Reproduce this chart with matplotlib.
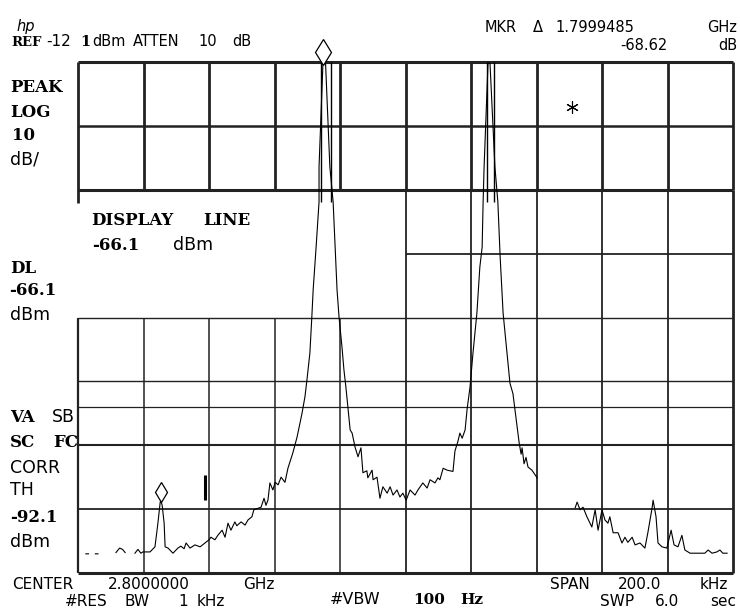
import numpy as np
import matplotlib
matplotlib.use("Agg")
from matplotlib import pyplot as plt

nan = np.nan

# Spectrum analyzer settings (center 2.8 GHz, span 200 kHz, 10 dB/div)
ref_level = -12.1
db_per_div = 10
n_ydiv = 8
freq_lo, freq_hi = -100.0, 100.0   # kHz offset from center
display_line = -66.1

# Trace: frequency offset (kHz) and level (dBm)
trace_f = [-97.6, -96.8, nan, -94.7, -93.9, nan, -88.4, -87.3, -86.4, -85.6, nan,
           -82.6, -81.7, -80.8, -80.2, -78.0, -76.5, -75.6, -74.9, -74.7, -74.3,
           -73.7, -73.4, -72.5, -71.0, -69.5, -68.6, -67.6, -67.0, -65.8, -64.3,
           -62.7, -61.2, -60.0, -59.4, -58.2, -57.3, -56.0, -55.1, -54.2, -53.3,
           -52.1, -51.5, -50.2, -49.0, -48.1, -46.9, -46.3, -44.1, -43.2, -42.6,
           -42.0, -41.4, -40.5, -39.8, -38.9, -38.0, -36.8, -35.9, -34.4, -33.1,
           -31.6, -30.7, -30.1, -29.2, -28.6, -28.2, -27.3, -26.4, -26.4, -25.2,
           -24.4, -23.1, -22.1, -21.5, -20.9, -20.3, -19.4, -18.8, -18.2, -17.6,
           -16.9, -16.3, -15.4, -14.5, -13.6, -13.0, -11.8, -11.5, -10.2, -9.9,
           -8.7, -7.8, -6.9, -5.6, -4.7, -3.8, -2.6, -1.7, -0.8, 0.2,
           1.4, 2.9, 3.8, 5.3, 6.6, 7.5, 9.0, 9.9, 10.5, 11.5,
           12.7, 14.5, 15.1, 16.0, 16.6, 17.3, 18.2, 18.8, 19.7, 20.6,
           21.8, 22.7, 23.4, 23.7, 24.0, 25.2, 25.8, 27.3, 28.2, 28.9,
           29.8, 31.0, 31.9, 32.8, 33.7, 34.7, 35.3, 35.6, 36.2, 36.8,
           37.4, 38.6, 40.2, nan,
           51.8, 52.4, 53.3, 54.2, 55.4, 56.9, 57.9, 58.8, 60.0, 60.9,
           61.8, 62.4, 63.4, 64.9, 66.1, 67.0, 67.9, 69.2, 70.1, 71.6,
           73.1, 74.0, 75.3, 75.6, 76.5, 77.1, 78.3, 79.8, 81.1, 82.0,
           83.2, 84.4, 85.3, 86.9, 89.9, 91.4, 92.4, 93.6, 95.1, 96.0,
           96.9, 98.2]
trace_db = [-89.1, -89.1, nan, -89.1, -89.1, nan, -88.9, -88.2, -88.4, -88.9, nan,
            -89.0, -88.4, -89.0, -88.8, -88.8, -88.0, -84.3, -81.0, -80.8, -81.5,
            -84.3, -88.0, -88.2, -89.0, -88.2, -87.9, -88.3, -87.4, -88.2, -87.7,
            -88.0, -87.4, -86.9, -86.5, -86.9, -86.2, -85.4, -86.5, -84.3, -85.4,
            -84.1, -84.7, -84.1, -84.6, -83.8, -83.3, -82.2, -81.8, -80.4, -81.5,
            -80.7, -78.0, -79.1, -77.9, -78.3, -77.1, -77.9, -75.7, -73.3, -70.8,
            -67.1, -64.5, -61.9, -57.7, -52.0, -47.8, -41.1, -34.0, -28.5, -12.2,
            -12.4, -28.5, -34.0, -41.1, -47.8, -52.0, -56.7, -60.3, -63.0, -66.1,
            -69.7, -70.2, -72.4, -73.9, -72.5, -76.4, -76.1, -77.2, -76.0, -77.5,
            -77.1, -80.4, -78.6, -79.6, -78.6, -79.9, -79.1, -80.2, -79.6, -80.7,
            -79.1, -79.9, -79.1, -78.0, -78.8, -77.5, -78.0, -77.2, -77.5, -75.7,
            -76.0, -76.2, -73.0, -71.5, -70.2, -71.0, -69.7, -66.5, -63.0, -57.7,
            -51.4, -44.2, -41.1, -34.0, -28.5, -12.2, -12.3, -28.5, -34.0, -42.6,
            -51.4, -57.7, -62.4, -64.0, -67.7, -71.7, -73.5, -72.5, -75.0, -74.0,
            -75.5, -76.0, -77.2, nan,
            -81.9, -81.0, -82.2, -81.8, -83.3, -84.9, -82.2, -85.4, -82.2, -83.8,
            -84.3, -83.3, -85.8, -85.8, -87.4, -86.5, -87.3, -86.5, -87.7, -87.4,
            -88.2, -85.8, -81.9, -80.7, -83.3, -87.4, -88.0, -88.2, -85.4, -87.7,
            -88.0, -86.2, -88.5, -89.0, -89.0, -89.0, -88.5, -89.0, -88.8, -88.5,
            -89.0, -89.0]

# clipped signal edges above the graticule
edge_f = [-25.8, -22.8, 24.9, 27.0]
edge_lo = -34.0

# markers
marker_f = [-25.2, -74.7]
marker_db = [-10.5, -79.4]
star_f = [50.8]
star_db = [-19.1]
bar_f = [-61.2]
bar_lo, bar_hi = -80.7, -76.7

W, H = 740, 610
fig = plt.figure(figsize=(W / 100, H / 100), dpi=100)
ax = fig.add_axes([78 / W, 37 / H, 655 / W, 511 / H])
bottom = ref_level - n_ydiv * db_per_div
ax.set_xlim(freq_lo, freq_hi)
ax.set_ylim(bottom, ref_level)
ax.axis('off')

gc = '#222222'
x_divs = np.linspace(freq_lo, freq_hi, 11)
y_divs = ref_level - db_per_div * np.arange(n_ydiv + 1)

# vertical graticule
for i, x in enumerate(x_divs):
    if i == 0:
        ax.vlines(x, ref_level - 22, ref_level, color=gc, lw=2.0, clip_on=False)
        ax.vlines(x, bottom, y_divs[4], color=gc, lw=1.6, clip_on=False)
    elif i < 5:
        ax.vlines(x, y_divs[2], ref_level, color=gc, lw=2.0, clip_on=False)
        ax.vlines(x, bottom, y_divs[4], color=gc, lw=1.1, clip_on=False)
    else:
        ax.vlines(x, y_divs[2], ref_level, color=gc, lw=2.0, clip_on=False)
        ax.vlines(x, bottom, y_divs[2], color=gc, lw=1.3 if i < 10 else 2.0,
                  clip_on=False)

# horizontal graticule
h_widths = [2.2, 1.8, 2.2, 1.3, 1.0, 1.0, 1.5, 1.3, 2.2]
for k, y in enumerate(y_divs):
    x0 = 0.0 if k == 3 else freq_lo
    ax.hlines(y, x0, freq_hi, color=gc, lw=h_widths[k], clip_on=False)
ax.hlines(display_line, freq_lo, freq_hi, color=gc, lw=0.9, clip_on=False)

# trace
ax.plot(trace_f, trace_db, color='black', lw=0.8)
ax.vlines(edge_f, edge_lo, ref_level, color='black', lw=1.0)
ax.plot(marker_f[:1], marker_db[:1], ls='none', marker='d', ms=13, mfc='white',
        mec='black', mew=0.9, clip_on=False)
ax.plot(marker_f[1:], marker_db[1:], ls='none', marker='d', ms=10.5, mfc='white',
        mec='black', mew=0.9)
ax.plot(star_f, star_db, ls='none', marker=(6, 2, 0), ms=9, color='black', mew=0.8)
ax.vlines(bar_f, bar_lo, bar_hi, color='black', lw=2.2)


def txt(x, y, s, bold=False, size=None, **kw):
    if bold:
        fam, w, sz = 'DejaVu Serif', 'bold', 12
    else:
        fam, w, sz = 'DejaVu Sans', 'normal', 12.5
    fig.text(x / W, 1 - y / H, s, family=fam, weight=w,
             size=size or sz, va='baseline', ha=kw.pop('ha', 'left'), **kw)


# header
txt(16, 31, 'hp', size=10.5, style='italic')
txt(11, 46, 'REF', bold=True, size=9.5)
txt(46, 46, '-12', size=11)
txt(80, 46, '1', bold=True, size=10.5)
txt(92, 46, 'dBm', size=10.5)
txt(133, 46, 'ATTEN', size=10.5)
txt(198, 46, '10', size=10.5)
txt(232, 46, 'dB', size=10.5)
txt(485, 32, 'MKR', size=10.5)
txt(533, 32, '\u0394', size=10.5)
txt(555, 32, '1.7999485', size=10.5)
txt(737, 32, 'GHz', size=10.5, ha='right')
txt(620, 50, '-68.62', size=10.5)
txt(737, 50, 'dB', size=10.5, ha='right')

# left annotations
txt(10, 92, 'PEAK', bold=True)
txt(10, 117, 'LOG', bold=True)
txt(12, 140, '10', bold=True)
txt(10, 164, 'dB/')
txt(91, 225, 'DISPLAY', bold=True)
txt(203, 225, 'LINE', bold=True)
txt(92, 250, '-66.1', bold=True)
txt(173, 250, 'dBm')
txt(10, 273, 'DL', bold=True)
txt(9, 295, '-66.1', bold=True)
txt(10, 320, 'dBm')
txt(10, 422, 'VA', bold=True)
txt(52, 422, 'SB')
txt(10, 447, 'SC', bold=True)
txt(53, 447, 'FC', bold=True)
txt(10, 473, 'CORR')
txt(10, 495, 'TH')
txt(10, 522, '-92.1', bold=True)
txt(10, 547, 'dBm')

# footer
txt(12, 589, 'CENTER', size=11)
txt(108, 589, '2.8000000', size=11)
txt(243, 589, 'GHz', size=11)
txt(65, 606, '#RES', size=11)
txt(125, 606, 'BW', size=11)
txt(178, 606, '1', size=11)
txt(197, 606, 'kHz', size=11)
txt(330, 604, '#VBW', size=11.5)
txt(413, 604, '100', bold=True, size=11)
txt(460, 604, 'Hz', bold=True, size=11)
txt(550, 589, 'SPAN', size=11)
txt(618, 589, '200.0', size=11)
txt(700, 589, 'kHz', size=11)
txt(600, 606, 'SWP', size=11)
txt(655, 606, '6.0', size=11)
txt(710, 606, 'sec', size=11)

fig.savefig('out.png', dpi=100, facecolor='white')
